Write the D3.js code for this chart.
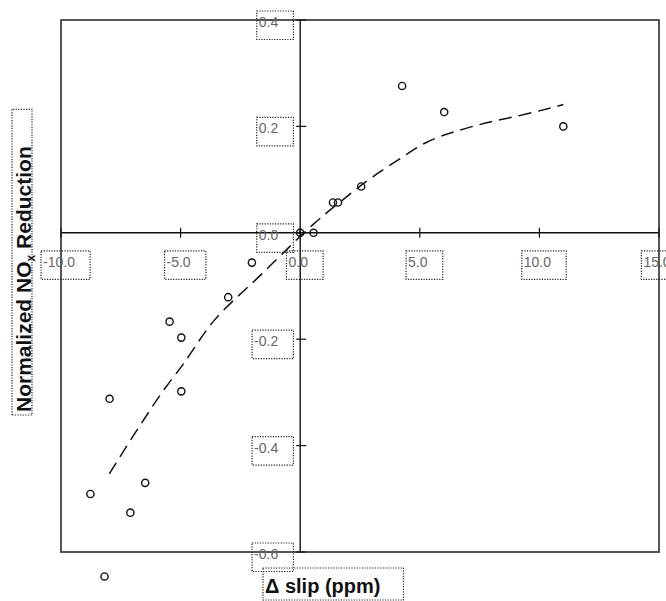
<!DOCTYPE html>
<html>
<head>
<meta charset="utf-8">
<script src="https://cdn.jsdelivr.net/npm/d3@7"></script>
<style>
  html, body { margin: 0; padding: 0; background: #fff; }
  svg { display: block; font-family: "Liberation Sans", Arial, sans-serif; }
</style>
</head>
<body>
<svg id="chart" width="666" height="601"></svg>
<script>
// ---- data ----
const pointX = [0, 0.56, 1.37, 1.58, 2.55, 4.26, 6.02, 11.0, -2.02, -3.01, -5.46, -4.97, -4.97, -7.97, -6.48, -8.77, -7.1, -8.18];
const pointY = [0, 0, 0.057, 0.057, 0.087, 0.276, 0.227, 0.2, -0.056, -0.121, -0.167, -0.197, -0.298, -0.312, -0.47, -0.491, -0.526, -0.646];

const fitX = [-7.98, -7.1, -6.35, -5.64, -4.95, -4.32, -3.64, -2.63, -1.67, -0.5, 0.63, 1.25, 2.2, 2.93, 4.3, 5.23, 6.15, 7.1, 8.07, 9.4, 11.0];
const fitY = [-0.453, -0.39, -0.338, -0.29, -0.252, -0.209, -0.164, -0.12, -0.081, -0.028, 0.02, 0.043, 0.077, 0.103, 0.143, 0.171, 0.186, 0.199, 0.21, 0.222, 0.241];

const xTicks = [-10, -5, 0, 5, 10, 15];
const xTickLabels = ["-10.0", "-5.0", "0.0", "5.0", "10.0", "15.0"];
const yTicks = [0.4, 0.2, 0.0, -0.2, -0.4, -0.6];
const yTickLabels = ["0.4", "0.2", "0.0", "-0.2", "-0.4", "-0.6"];

const xTitle = "\u0394 slip (ppm)";
const yTitleParts = ["Normalized NO", "x", " Reduction"];

// ---- layout ----
(function () {
const svg = d3.select("#chart");
const pLeft = 61, pRight = 659, pTop = 20, pBottom = 552;
const x = d3.scaleLinear().domain([-10, 15]).range([pLeft, pRight]);
const y = d3.scaleLinear().domain([-0.6, 0.4]).range([pBottom, pTop]);
const x0 = x(0), y0 = y(0);

// frame
svg.append("rect")
  .attr("x", pLeft).attr("y", pTop)
  .attr("width", pRight - pLeft).attr("height", pBottom - pTop)
  .attr("fill", "none").attr("stroke", "#444").attr("stroke-width", 1.8);

// zero axes
svg.append("line").attr("x1", pLeft).attr("x2", pRight).attr("y1", y0).attr("y2", y0)
  .attr("stroke", "#111").attr("stroke-width", 1.4);
svg.append("line").attr("x1", x0).attr("x2", x0).attr("y1", pTop).attr("y2", pBottom)
  .attr("stroke", "#111").attr("stroke-width", 1.4);

// tick marks (crossing)
svg.selectAll(".xt").data(xTicks).join("line")
  .attr("x1", d => x(d)).attr("x2", d => x(d))
  .attr("y1", y0 - 5).attr("y2", y0 + 5)
  .attr("stroke", "#111").attr("stroke-width", 1.2);
svg.selectAll(".yt").data(yTicks).join("line")
  .attr("x1", x0 - 4).attr("x2", x0 + 6)
  .attr("y1", d => y(d)).attr("y2", d => y(d))
  .attr("stroke", "#111").attr("stroke-width", 1.2);

// helper for dotted selection boxes
function dottedBox(parent, bb, padL, padT, padR, padB) {
  parent.append("rect")
    .attr("x", bb.x - padL).attr("y", bb.y - padT)
    .attr("width", bb.width + padL + padR).attr("height", bb.height + padT + padB)
    .attr("fill", "none").attr("stroke", "#222").attr("stroke-width", 1.2)
    .attr("stroke-dasharray", "1.2,1.4");
}

// x tick labels
const xLab = svg.append("g");
xTicks.forEach((t, i) => {
  const tx = xLab.append("text")
    .attr("x", x(t) - 2).attr("y", y0 + 34)
    .attr("text-anchor", "middle")
    .attr("font-size", 14).attr("fill", "#666")
    .text(xTickLabels[i]);
  dottedBox(xLab, tx.node().getBBox(), 2, 3, 15, 9.5);
});

// y tick labels
const yLab = svg.append("g");
yTicks.forEach((t, i) => {
  const ty = yLab.append("text")
    .attr("x", x0 - 22).attr("y", y(t) + 7)
    .attr("text-anchor", "end")
    .attr("font-size", 14).attr("fill", "#666")
    .text(yTickLabels[i]);
  dottedBox(yLab, ty.node().getBBox(), 2, 3, 15, 9.5);
});

// fit curve
const fitData = fitX.map((v, i) => [v, fitY[i]]);
svg.append("path")
  .datum(fitData)
  .attr("d", d3.line().x(d => x(d[0])).y(d => y(d[1])).curve(d3.curveBasis))
  .attr("fill", "none").attr("stroke", "#111").attr("stroke-width", 1.5)
  .attr("stroke-dasharray", "13,7");

// points
const pts = pointX.map((v, i) => [v, pointY[i]]);
svg.selectAll(".pt").data(pts).join("circle")
  .attr("cx", d => x(d[0])).attr("cy", d => y(d[1]))
  .attr("r", 3.6)
  .attr("fill", "none").attr("stroke", "#111").attr("stroke-width", 1.4);

// x title
const xt = svg.append("text")
  .attr("x", 265).attr("y", 593)
  .attr("font-size", 20).attr("font-weight", "bold").attr("fill", "#111")
  .text(xTitle);
dottedBox(svg, xt.node().getBBox(), 2, 7, 23, 3);

// y title
const yg = svg.append("g").attr("transform", "rotate(-90)");
const ytx = yg.append("text")
  .attr("x", -412).attr("y", 31)
  .attr("font-size", 21).attr("font-weight", "bold").attr("fill", "#111");
ytx.append("tspan").text(yTitleParts[0]);
ytx.append("tspan").attr("font-size", 12).attr("dy", 4).text(yTitleParts[1]);
ytx.append("tspan").attr("dy", -4).text(yTitleParts[2]);
const ybb = ytx.node().getBBox();
yg.append("rect")
  .attr("x", ybb.x - 3).attr("y", ybb.y)
  .attr("width", ybb.width + 40).attr("height", 20)
  .attr("fill", "none").attr("stroke", "#222").attr("stroke-width", 1.2)
  .attr("stroke-dasharray", "1.2,1.4");
})();
</script>
</body>
</html>
